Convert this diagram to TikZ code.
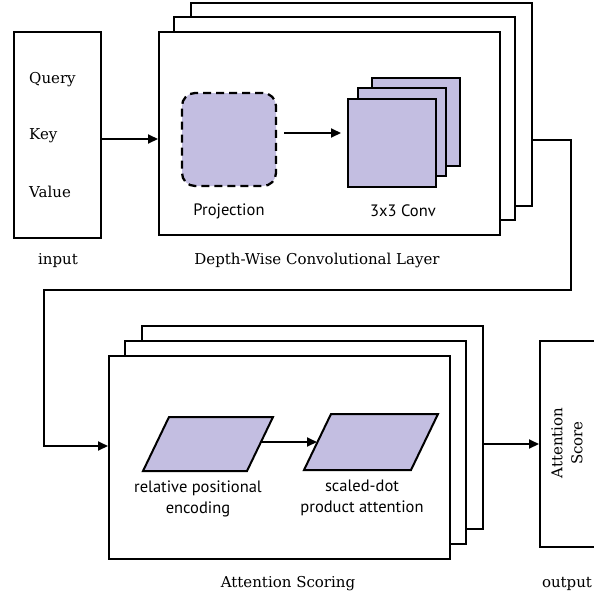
\documentclass[tikz,border=0pt]{standalone}
\usepackage{fontspec}
\setmainfont{DejaVu Serif}
\newfontfamily\labsans{PT Sans}
\usetikzlibrary{arrows.meta,calc}
\definecolor{lav}{RGB}{195,190,225}
\begin{document}
\begin{tikzpicture}[x=1pt,y=-1pt,
  frame/.style={draw=black, line width=2pt, fill=white, inner sep=0pt, minimum width=341pt, minimum height=203pt},
  inbox/.style={draw=black, line width=2pt, fill=white, inner sep=0pt, minimum width=87pt, minimum height=206pt},
  convsq/.style={draw=black, line width=2pt, fill=lav, inner sep=0pt, minimum width=88pt, minimum height=88pt},
  proj/.style={draw=black, dash pattern=on 8pt off 5pt, line width=2.3pt, fill=lav, rounded corners=13pt, inner sep=0pt, minimum width=94pt, minimum height=93pt},
  para/.style={draw=black, line width=2pt, fill=lav, line join=miter},
  arr/.style={-{Triangle[length=10pt,width=9pt]}, line width=2pt},
  serif/.style={font=\fontsize{15}{18}\selectfont, inner sep=0pt},
  sanslab/.style={font=\labsans\fontsize{16.5}{21}\selectfont, align=center, inner sep=0pt}
]
\useasboundingbox (0,0) rectangle (594,600);
\clip (0,0) rectangle (594,600);
\fill[white] (0,0) rectangle (594,600);

% input
\node[inbox] (inp) at (57.5,135) {};
\node[serif, anchor=west] (q) at (29,80) {Query};
\node[serif, anchor=west] (k) at (29,136) {Key};
\node[serif, anchor=west] (v) at (29,192) {Value};
\node[serif] (inlab) at (58,261) {input};

% depth-wise stack
\node[frame] (dw3) at (361.5,104.5) {};
\node[frame] (dw2) at (344.5,118) {};
\node[frame] (dw1) at (329.5,133.5) {};
\node[serif] (dwlab) at (317,260) {Depth-Wise Convolutional Layer};

\node[proj] (pr) at (229,139.5) {};
\node[sanslab] (prlab) at (229,211) {Projection};

\node[convsq] (cv3) at (416,122) {};
\node[convsq] (cv2) at (402,132) {};
\node[convsq] (cv1) at (392,143) {};
\node[sanslab] (cvlab) at (403,211) {3x3 Conv};

\coordinate (ya) at (0,139);
\coordinate (yb) at (0,133);
\draw[arr] (inp.east |- ya) -- (dw1.west |- ya);
\draw[arr, shorten <=7pt, shorten >=6pt] (pr.east |- yb) -- (cv1.west |- yb);

% connector
\coordinate (c1) at (571,140);
\coordinate (c2) at (571,290);
\coordinate (c3) at (44,290);
\coordinate (c4) at (44,446);

% attention stack
\node[frame] (at3) at (312,427.5) {};
\node[frame] (at2) at (295,442.5) {};
\node[frame] (at1) at (279.5,457.5) {};
\node[serif] (atlab) at (288,584) {Attention Scoring};

\draw[arr] (c1 -| dw3.east) -- (c1) -- (c2) -- (c3) -- (c4) -- (c4 -| at1.west);

% parallelograms
\coordinate (p1) at (208,444);
\draw[para] ($(p1)+(-65,27)$) -- ($(p1)+(39,27)$) -- ($(p1)+(65,-27)$) -- ($(p1)+(-39,-27)$) -- cycle;
\coordinate (p1e) at ($(p1)+(53,-2)$);
\node[sanslab] (p1lab) at (198,498.5) {relative positional\\encoding};
\coordinate (p2) at (371,442);
\draw[para] ($(p2)+(-67,28)$) -- ($(p2)+(40,28)$) -- ($(p2)+(67,-28)$) -- ($(p2)+(-40,-28)$) -- cycle;
\coordinate (p2w) at ($(p2)+(-54,0)$);
\node[sanslab] (p2lab) at (362,497.5) {scaled-dot\\product attention};
\draw[arr] (p1e) -- (p2w);

% output
\node[inbox, minimum width=80pt] (out) at (580,444) {};
\node[serif, rotate=90, align=center, font=\fontsize{15}{20}\selectfont] (outtxt) at (567,443) {Attention\\Score};
\node[serif] (outlab) at (567,584) {output};
\draw[arr] (out.west -| at3.east) -- (out.west);
\end{tikzpicture}
\end{document}
